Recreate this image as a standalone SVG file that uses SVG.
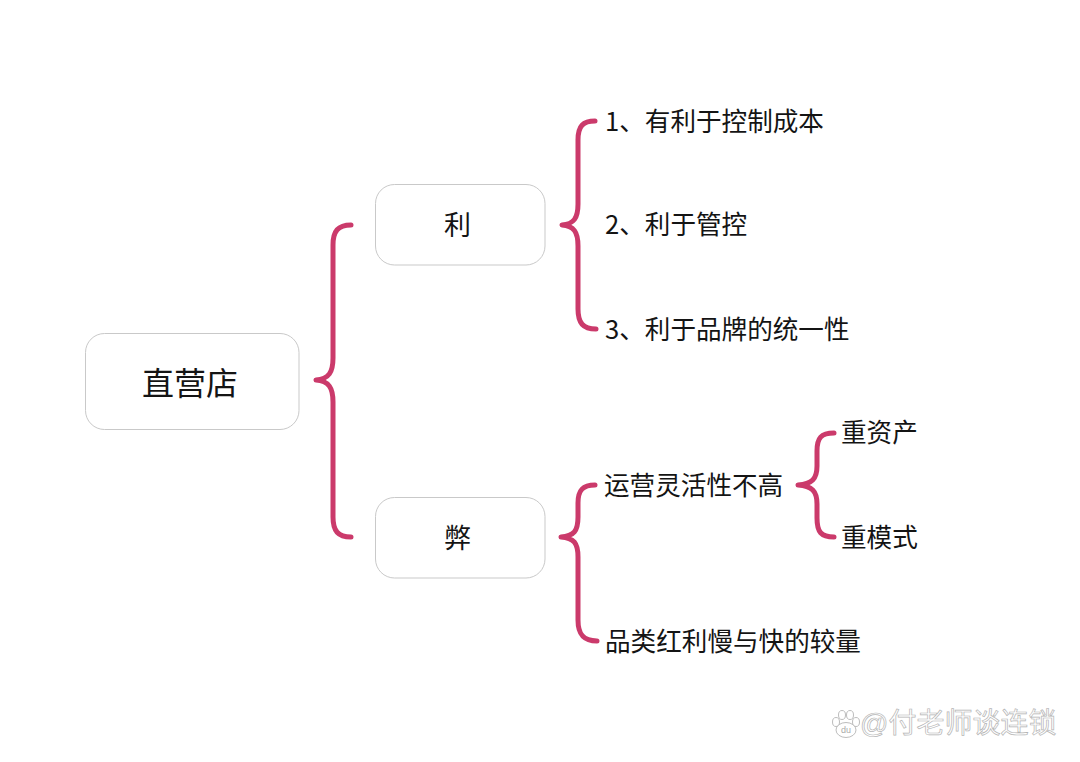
<svg xmlns="http://www.w3.org/2000/svg" width="1080" height="762" viewBox="0 0 1080 762">
<style>
text{font-family:"Noto Sans CJK SC","Liberation Sans",sans-serif;fill:#141414;font-size:25.6px}
.box{fill:#fff;stroke:#c9c9c9;stroke-width:1}
.brace{fill:none;stroke:#cb3a6b;stroke-width:5;stroke-linecap:round;stroke-linejoin:round}
.wm{font-size:28px;fill:#fff;stroke:#b4b4b4;stroke-width:.7}
.paw{fill:#fff;stroke:#bdbdbd;stroke-width:1}
</style>
<rect width="1080" height="762" fill="#fff"/>
<g id="connectors">
<path class="brace" d="M351 225C338 225 333 231 333 245V358C333 372 329 379 316 380C329 381 333 388 333 402V517C333 531 338 537 351 537"/>
<path class="brace" d="M595 121C583 121 578 126 578 140V204C578 218 574 224 562 225C574 226 578 232 578 246V309C578 323 583 329 596 329"/>
<path class="brace" d="M595 485C583 485 578 490 578 503V517C578 531 574 536 561 537C574 538 578 543 578 557V620C578 634 583 641 597 641"/>
<path class="brace" d="M834 433C821 433 817 438 817 451V466C817 479 812 484 798 485C812 486 817 491 817 504V518C817 532 821 537 834 537"/>
</g>
<g id="node-root"><rect class="box" x="85.500" y="333.500" width="213.500" height="96" rx="19"/><text x="142" y="395" style="font-size:32px">直营店</text></g>
<g id="node-li"><rect class="box" x="375.500" y="184.500" width="169.500" height="80.500" rx="19"/><text x="444" y="235" style="font-size:27px">利</text></g>
<g id="node-bi"><rect class="box" x="375.500" y="497.500" width="169.500" height="80.500" rx="19"/><text x="444" y="548" style="font-size:27px">弊</text></g>
<g id="item-1"><text x="605" y="131">1、有利于控制成本</text></g>
<g id="item-2"><text x="605" y="234">2、利于管控</text></g>
<g id="item-3"><text x="605" y="339">3、利于品牌的统一性</text></g>
<g id="item-4"><text x="604" y="495">运营灵活性不高</text></g>
<g id="item-5"><text x="605" y="651">品类红利慢与快的较量</text></g>
<g id="item-6"><text x="841" y="442">重资产</text></g>
<g id="item-7"><text x="841" y="547">重模式</text></g>
<g id="watermark">
<ellipse class="paw" cx="836" cy="722" rx="3.500" ry="4.500"/><ellipse class="paw" cx="842" cy="715" rx="3.500" ry="4.500"/><ellipse class="paw" cx="850" cy="715" rx="3.500" ry="4.500"/><ellipse class="paw" cx="856" cy="722" rx="3.500" ry="4.500"/>
<ellipse class="paw" cx="846" cy="730" rx="10" ry="7.500"/>
<text x="841" y="733" style="font-size:9px;fill:#aaa;font-family:'Liberation Sans',sans-serif">du</text>
<text class="wm" x="860" y="733" style="font-family:'Liberation Sans','Noto Sans CJK SC',sans-serif">@付老师谈连锁</text>
</g>
</svg>
